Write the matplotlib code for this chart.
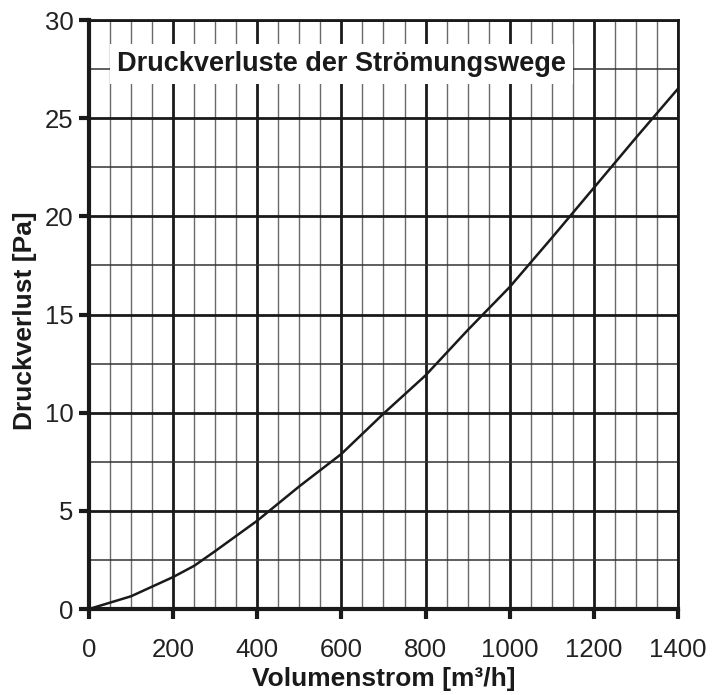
import numpy as np
import matplotlib
matplotlib.use('Agg')
from matplotlib import pyplot as plt
from matplotlib.ticker import MultipleLocator

# data
volumenstrom = [0, 100, 200, 250, 300, 400, 500, 600, 700, 800, 900, 1000, 1100, 1200, 1300, 1400]
druckverlust = [0, 0.65, 1.63, 2.2, 2.95, 4.5, 6.25, 7.9, 9.95, 11.9, 14.2, 16.4, 18.9, 21.45, 24.0, 26.5]

x_ticks = [0, 200, 400, 600, 800, 1000, 1200, 1400]
y_ticks = [0, 5, 10, 15, 20, 25, 30]

plt.rcParams['font.family'] = ['Liberation Sans', 'DejaVu Sans']

fig = plt.figure(figsize=(7.2, 6.95), dpi=100)
ax = fig.add_axes([0.1236, 0.1237, 0.818, 0.8475])

ax.set_xlim(0, 1400)
ax.set_ylim(0, 30)
ax.set_xticks(x_ticks)
ax.set_yticks(y_ticks)
ax.xaxis.set_minor_locator(MultipleLocator(50))
ax.yaxis.set_minor_locator(MultipleLocator(2.5))

# grid
ax.grid(which='major', axis='x', color='#1a1a1a', lw=2.0)
ax.grid(which='minor', axis='x', color='#6a6a6a', lw=1.0)
ax.grid(which='major', axis='y', color='#1a1a1a', lw=2.0)
ax.grid(which='minor', axis='y', color='#333333', lw=1.1)
ax.set_axisbelow(True)

ax.plot(volumenstrom, druckverlust, color='#1a1a1a', lw=1.8, zorder=3)

# spines
for side, w in [('left', 3.0), ('bottom', 3.0), ('top', 2.0), ('right', 2.0)]:
    ax.spines[side].set_linewidth(w)
    ax.spines[side].set_color('#1a1a1a')

ax.tick_params(axis='both', which='major', direction='out', length=7, width=3,
               color='#1a1a1a', labelsize=18.5, labelcolor='#222222')
ax.tick_params(axis='x', which='major', pad=14)
ax.tick_params(axis='y', which='major', pad=4)
ax.tick_params(axis='both', which='minor', length=0)

ax.set_xlabel('Volumenstrom [m³/h]', fontsize=19, fontweight='bold', color='#1a1a1a')
ax.set_ylabel('Druckverlust [Pa]', fontsize=19, fontweight='bold', color='#1a1a1a')
ax.xaxis.set_label_coords(0.5, -0.098)
ax.yaxis.set_label_coords(-0.088, 0.49)

ax.text(600, 27.75, 'Druckverluste der Strömungswege', ha='center', va='center',
        fontsize=19.5, fontweight='bold', color='#1a1a1a', zorder=4,
        bbox=dict(facecolor='white', edgecolor='none', pad=5))

plt.savefig('out.png', dpi=100)
